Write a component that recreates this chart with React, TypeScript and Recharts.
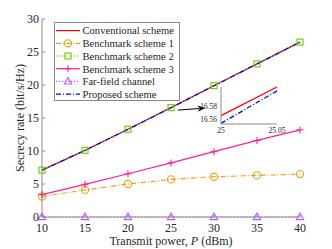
import { LineChart, Line, XAxis, YAxis, ReferenceLine, Label } from 'recharts';

// transmit power (dBm)
const powers: number[] = [10, 15, 20, 25, 30, 35, 40];
const conventional: number[] = [7.1, 10.1, 13.3, 16.57, 19.9, 23.2, 26.5];
const benchmark1: number[] = [3.1, 4.1, 5.0, 5.7, 6.1, 6.3, 6.5];
const benchmark2: number[] = [7.1, 10.1, 13.3, 16.57, 19.9, 23.2, 26.5];
const benchmark3: number[] = [3.4, 4.95, 6.55, 8.2, 9.9, 11.6, 13.2];
const farField: number[] = [0, 0, 0, 0, 0, 0, 0];
const proposed: number[] = [7.09, 10.09, 13.29, 16.56, 19.89, 23.19, 26.49];

const xTicks: number[] = [10, 15, 20, 25, 30, 35, 40];
const yTicks: number[] = [0, 5, 10, 15, 20, 25, 30];

// zoomed inset
const zoomPowers: number[] = [25, 25.05];
const zoomConventional: number[] = [16.566, 16.61];
const zoomProposed: number[] = [16.554, 16.604];
const zoomXTicks: number[] = [25, 25.05];
const zoomYTicks: number[] = [16.56, 16.58];

const names: string[] = [
  'Conventional scheme',
  'Benchmark scheme 1',
  'Benchmark scheme 2',
  'Benchmark scheme 3',
  'Far-field channel',
  'Proposed scheme',
];

const colors = {
  conv: '#ff0000',
  b1: '#f0a010',
  b2: '#66cc00',
  b3: '#ff1f96',
  far: '#b25cff',
  prop: '#0000ff',
};

const FONT = '"Liberation Serif", "Times New Roman", serif';
const AXIS = '#8a8a8a';
const TEXT = '#262626';

const data = powers.map((p, i) => ({
  p,
  conv: conventional[i],
  b1: benchmark1[i],
  b2: benchmark2[i],
  b3: benchmark3[i],
  far: farField[i],
  prop: proposed[i],
}));

const zoomData = zoomPowers.map((p, i) => ({ p, conv: zoomConventional[i], prop: zoomProposed[i] }));

type Marker = 'circle' | 'square' | 'plus' | 'triangle' | null;

const drawMarker = (kind: Marker, cx: number, cy: number, color: string, key?: string | number) => {
  if (kind === 'circle') return <circle key={key} cx={cx} cy={cy} r={3.6} fill="none" stroke={color} strokeWidth={1.1} />;
  if (kind === 'square')
    return <rect key={key} x={cx - 3} y={cy - 3} width={6} height={6} fill="none" stroke={color} strokeWidth={1.1} />;
  if (kind === 'plus')
    return (
      <g key={key} stroke={color} strokeWidth={1.1}>
        <line x1={cx - 3.5} y1={cy} x2={cx + 3.5} y2={cy} />
        <line x1={cx} y1={cy - 3.5} x2={cx} y2={cy + 3.5} />
      </g>
    );
  if (kind === 'triangle')
    return (
      <polygon
        key={key}
        points={`${cx},${cy - 4} ${cx - 3.7},${cy + 2.6} ${cx + 3.7},${cy + 2.6}`}
        fill="none"
        stroke={color}
        strokeWidth={1.1}
      />
    );
  return <g key={key} />;
};

const dotFor = (kind: Marker, color: string) => (props: any) => {
  const { cx, cy, index } = props;
  if (cx == null || cy == null) return <g key={index} />;
  return drawMarker(kind, cx, cy, color, index);
};

const series: { key: string; color: string; dash?: string; marker: Marker }[] = [
  { key: 'conv', color: colors.conv, marker: null },
  { key: 'b1', color: colors.b1, dash: '5 2 1 2', marker: 'circle' },
  { key: 'b2', color: colors.b2, dash: '1.2 1.8', marker: 'square' },
  { key: 'b3', color: colors.b3, marker: 'plus' },
  { key: 'far', color: colors.far, dash: '1.2 1.8', marker: 'triangle' },
  { key: 'prop', color: colors.prop, dash: '5 2 1 2', marker: null },
];

const Arrow = (props: any) => {
  const { x1, y1, x2, y2 } = props;
  if (x1 == null) return <g />;
  const a = Math.atan2(y2 - y1, x2 - x1);
  const L = 8;
  const W = 3.2;
  const bx = x2 - L * Math.cos(a);
  const by = y2 - L * Math.sin(a);
  const nx = -Math.sin(a);
  const ny = Math.cos(a);
  return (
    <g>
      <line x1={x1} y1={y1} x2={bx + 2 * Math.cos(a)} y2={by + 2 * Math.sin(a)} stroke="#000" strokeWidth={1} />
      <polygon
        points={`${x2},${y2} ${bx + nx * W},${by + ny * W} ${bx + 2.5 * Math.cos(a)},${by + 2.5 * Math.sin(a)} ${bx - nx * W},${by - ny * W}`}
        fill="#000"
      />
    </g>
  );
};

const XTitle = (props: any) => {
  const vb = props.viewBox || {};
  const cx = (vb.x ?? 42) + (vb.width ?? 258) / 2;
  return (
    <text x={cx} y={245} textAnchor="middle" fontSize={12} fontFamily={FONT} fill={TEXT}>
      <tspan>Transmit power, </tspan>
      <tspan fontStyle="italic">P</tspan>
      <tspan> (dBm)</tspan>
    </text>
  );
};

const LegendBox = () => (
  <div
    style={{
      position: 'absolute',
      left: 54,
      top: 22,
      width: 126,
      height: 79,
      boxSizing: 'border-box',
      border: `1px solid ${AXIS}`,
      background: '#fff',
    }}
  >
    <svg width={126} height={79} style={{ position: 'absolute', left: -1, top: -1 }}>
      {series.map((s, i) => {
        const y = 8.6 + i * 12.7;
        return (
          <g key={s.key}>
            <line x1={2} y1={y} x2={26} y2={y} stroke={s.color} strokeWidth={1.2} strokeDasharray={s.dash} />
            {drawMarker(s.marker, 14, y, s.color)}
            <text x={28.5} y={y + 3.8} fontSize={10.6} fontFamily={FONT} fill={TEXT}>
              {names[i]}
            </text>
          </g>
        );
      })}
    </svg>
  </div>
);

const App = () => {
  return (
    <div style={{ position: 'absolute', left: 0, top: 0, width: 332, height: 249, background: '#fff' }}>
      <LineChart width={332} height={249} data={data} margin={{ top: 19, right: 32, left: 0, bottom: 0 }}>
        <XAxis
          dataKey="p"
          type="number"
          domain={[10, 40]}
          ticks={xTicks}
          interval={0}
          height={32}
          stroke={AXIS}
          tickSize={-3}
          tickMargin={9}
          tick={{ fontSize: 12, fontFamily: FONT, fill: TEXT }}
          label={<Label content={<XTitle />} />}
        />
        <XAxis
          xAxisId="top"
          orientation="top"
          dataKey="p"
          type="number"
          domain={[10, 40]}
          ticks={xTicks}
          interval={0}
          height={0}
          stroke={AXIS}
          tickSize={-3}
          tick={false}
        />
        <YAxis
          type="number"
          domain={[0, 30]}
          ticks={yTicks}
          interval={0}
          width={42}
          stroke={AXIS}
          tickSize={-3}
          tickMargin={6}
          tick={{ fontSize: 12, fontFamily: FONT, fill: TEXT }}
          label={{
            value: 'Secrecy rate (bit/s/Hz)',
            angle: -90,
            position: 'center',
            dx: -1,
            style: { fontSize: 12, fontFamily: FONT, fill: TEXT, textAnchor: 'middle' },
          }}
        />
        <YAxis
          yAxisId="right"
          orientation="right"
          type="number"
          domain={[0, 30]}
          ticks={yTicks}
          interval={0}
          width={0}
          stroke={AXIS}
          tickSize={-3}
          tick={false}
        />
        {series.map((s) => (
          <Line
            key={s.key}
            dataKey={s.key}
            stroke={s.color}
            strokeWidth={1.2}
            strokeDasharray={s.dash}
            dot={dotFor(s.marker, s.color)}
            activeDot={false}
            isAnimationActive={false}
          />
        ))}
        <ReferenceLine
          segment={[
            { x: 25.8, y: 16.2 },
            { x: 29.0, y: 16.5 },
          ]}
          shape={<Arrow />}
          ifOverflow="visible"
        />
      </LineChart>

      <div style={{ position: 'absolute', left: 190, top: 80 }}>
        <LineChart width={102} height={60} data={zoomData} margin={{ top: 7, right: 15, left: 0, bottom: 0 }}>
          <XAxis
            dataKey="p"
            type="number"
            domain={[25, 25.05]}
            ticks={zoomXTicks}
            interval={0}
            height={16}
            stroke={AXIS}
            tickLine={false}
            tickSize={0}
            tickMargin={4}
            tick={{ fontSize: 7.5, fontFamily: FONT, fill: TEXT }}
          />
          <XAxis
            xAxisId="top"
            orientation="top"
            dataKey="p"
            type="number"
            domain={[25, 25.05]}
            height={0}
            stroke={AXIS}
            tickLine={false}
            tick={false}
          />
          <YAxis
            type="number"
            domain={[16.553, 16.61]}
            ticks={zoomYTicks}
            interval={0}
            width={31}
            stroke={AXIS}
            tickLine={false}
            tickSize={0}
            tickMargin={4}
            tick={{ fontSize: 7.5, fontFamily: FONT, fill: TEXT }}
          />
          <YAxis
            yAxisId="right"
            orientation="right"
            type="number"
            domain={[16.553, 16.61]}
            width={0}
            stroke={AXIS}
            tickLine={false}
            tick={false}
          />
          <Line dataKey="conv" stroke={colors.conv} strokeWidth={1.3} dot={false} activeDot={false} isAnimationActive={false} />
          <Line
            dataKey="prop"
            stroke={colors.prop}
            strokeWidth={1.3}
            strokeDasharray="5 2 1 2"
            dot={false}
            activeDot={false}
            isAnimationActive={false}
          />
        </LineChart>
      </div>

      <LegendBox />
    </div>
  );
};

export default App;
